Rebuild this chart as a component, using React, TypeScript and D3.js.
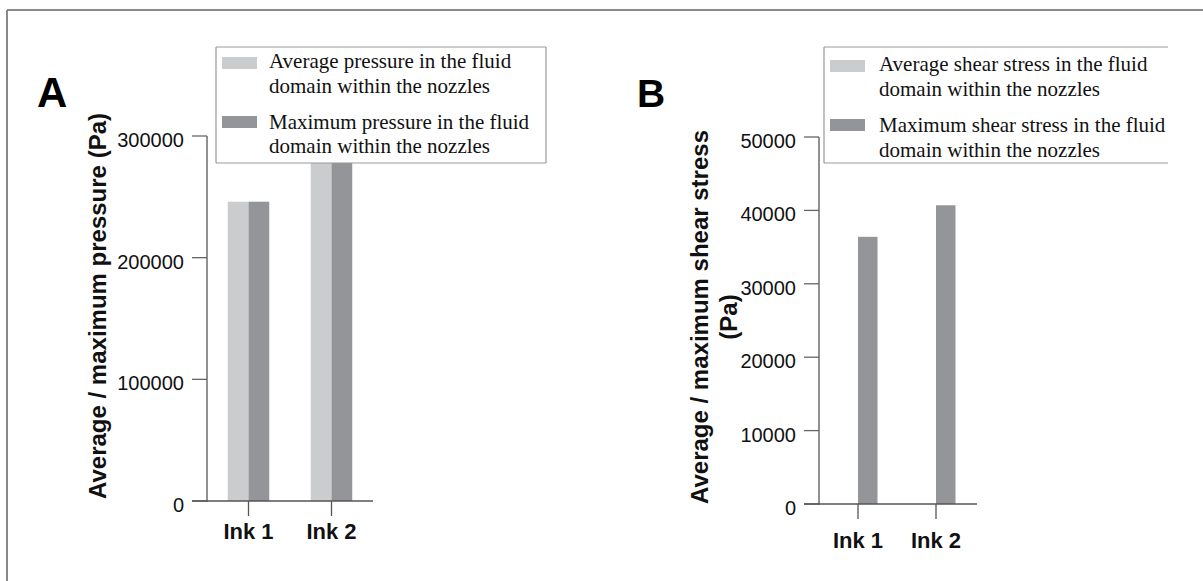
import React from "react";
import * as d3 from "d3";

const categories = ["Ink 1", "Ink 2"];
const seriesKeys = ["avg", "max"];

// Panel A: pressure (Pa)
const pressureAvg = [246000, 282000];
const pressureMax = [246000, 282000];
const pressureTicks = [0, 100000, 200000, 300000];
const pressureLegend = [
  ["Average pressure in the fluid", "domain within the nozzles"],
  ["Maximum pressure in the fluid", "domain within the nozzles"],
];

// Panel B: shear stress (Pa)
const shearAvg = [0, 0];
const shearMax = [36400, 40700];
const shearTicks = [0, 10000, 20000, 30000, 40000, 50000];
const shearLegend = [
  ["Average shear stress in the fluid", "domain within the nozzles"],
  ["Maximum shear stress in the fluid", "domain within the nozzles"],
];

const COLORS = { avg: "#cbcccd", max: "#939598" };
const SANS = "'Liberation Sans', Arial, sans-serif";
const SERIF = "'Liberation Serif', 'Times New Roman', serif";

type PanelProps = {
  letter: string;
  letterX: number;
  letterY: number;
  letterSize: number;
  avg: number[];
  max: number[];
  ticks: number[];
  yDomainMax: number;
  axisX: number;
  axisTop: number;
  axisBottom: number;
  xRangeEnd: number;
  xAxisEnd: number;
  inkLabelY: number;
  yLabelLines: string[];
  yLabelX: number[];
  yLabelCY: number;
  legend: string[][];
  legendBox: { x: number; y: number; w: number; h: number; right: boolean };
  swatchX: number;
  swatchY: number[];
  textX: number;
  textY: number[];
};

function Panel(p: PanelProps) {
  const y = d3.scaleLinear().domain([0, p.yDomainMax]).range([p.axisBottom, p.axisTop]);
  const x = d3
    .scaleBand<string>()
    .domain(categories)
    .range([p.axisX, p.xRangeEnd])
    .paddingInner(0.5)
    .paddingOuter(0.25);
  const xs = d3.scaleBand<string>().domain(seriesKeys).range([0, x.bandwidth()]);
  const data = categories.map((c, i) => ({ c, avg: p.avg[i], max: p.max[i] }));
  const fmt = d3.format("d");
  const tickLen = 15;
  const lb = p.legendBox;
  return (
    <g>
      <text x={p.letterX} y={p.letterY} fontFamily={SANS} fontWeight="bold" fontSize={p.letterSize} fill="#000">
        {p.letter}
      </text>
      {/* bars */}
      {data.map((d) =>
        seriesKeys.map((k) => {
          const v = (d as any)[k] as number;
          const bx = (x(d.c) as number) + (xs(k) as number);
          return (
            <rect
              key={d.c + k}
              x={bx}
              y={y(v)}
              width={xs.bandwidth()}
              height={p.axisBottom - y(v)}
              fill={(COLORS as any)[k]}
            />
          );
        })
      )}
      {/* y axis */}
      <line x1={p.axisX} x2={p.axisX} y1={y(p.yDomainMax)} y2={p.axisBottom + 1} stroke="#555" strokeWidth={1.3} />
      {p.ticks.map((t) => (
        <g key={t}>
          <line x1={p.axisX - tickLen} x2={p.axisX} y1={y(t)} y2={y(t)} stroke="#666" strokeWidth={1.3} />
          <text
            x={p.axisX - tickLen - 8}
            y={y(t) + 11}
            textAnchor="end"
            fontFamily={SANS}
            fontSize={20}
            fill="#111"
          >
            {fmt(t)}
          </text>
        </g>
      ))}
      {/* x axis */}
      <line x1={p.axisX - tickLen} x2={p.xAxisEnd} y1={p.axisBottom} y2={p.axisBottom} stroke="#555" strokeWidth={1.3} />
      {categories.map((c) => {
        const cx = (x(c) as number) + x.bandwidth() / 2;
        return (
          <g key={c}>
            <line x1={cx} x2={cx} y1={p.axisBottom} y2={p.axisBottom + 15} stroke="#555" strokeWidth={1.3} />
            <text x={cx} y={p.inkLabelY} textAnchor="middle" fontFamily={SANS} fontWeight="bold" fontSize={22} fill="#111">
              {c}
            </text>
          </g>
        );
      })}
      {/* y label */}
      {p.yLabelLines.map((l, i) => (
        <text
          key={l}
          transform={`translate(${p.yLabelX[i]},${p.yLabelCY}) rotate(-90)`}
          textAnchor="middle"
          fontFamily={SANS}
          fontWeight="bold"
          fontSize={24}
          fill="#111"
        >
          {l}
        </text>
      ))}
      {/* legend */}
      <rect x={lb.x} y={lb.y} width={lb.w} height={lb.h} fill="#fff" stroke="none" />
      <line x1={lb.x} x2={lb.x + lb.w} y1={lb.y} y2={lb.y} stroke="#999" strokeWidth={1.2} />
      <line x1={lb.x} x2={lb.x + lb.w} y1={lb.y + lb.h} y2={lb.y + lb.h} stroke="#999" strokeWidth={1.2} />
      <line x1={lb.x} x2={lb.x} y1={lb.y} y2={lb.y + lb.h} stroke="#999" strokeWidth={1.2} />
      {lb.right && (
        <line x1={lb.x + lb.w} x2={lb.x + lb.w} y1={lb.y} y2={lb.y + lb.h} stroke="#999" strokeWidth={1.2} />
      )}
      {seriesKeys.map((k, i) => (
        <g key={k}>
          <rect x={p.swatchX} y={p.swatchY[i]} width={35} height={12} fill={(COLORS as any)[k]} />
          {p.legend[i].map((line, j) => (
            <text key={j} x={p.textX} y={p.textY[i * 2 + j]} fontFamily={SERIF} fontSize={21} fill="#111">
              {line}
            </text>
          ))}
        </g>
      ))}
    </g>
  );
}

export default function App() {
  return (
    <svg
      width={1203}
      height={581}
      style={{ position: "absolute", left: 0, top: 0, display: "block", background: "#fff" }}
    >
      <rect x={0} y={0} width={1203} height={581} fill="#fff" />
      <line x1={7} x2={1203} y1={10} y2={10} stroke="#8a8a8a" strokeWidth={2} />
      <line x1={7} x2={7} y1={10} y2={581} stroke="#8a8a8a" strokeWidth={2} />
      <Panel
        letter="A"
        letterX={37}
        letterY={107}
        letterSize={42}
        avg={pressureAvg}
        max={pressureMax}
        ticks={pressureTicks}
        yDomainMax={300000}
        axisX={207}
        axisTop={136}
        axisBottom={501}
        xRangeEnd={373}
        xAxisEnd={373}
        inkLabelY={539}
        yLabelLines={["Average / maximum pressure (Pa)"]}
        yLabelX={[106]}
        yLabelCY={306}
        legend={pressureLegend}
        legendBox={{ x: 216, y: 47, w: 330, h: 116, right: true }}
        swatchX={222}
        swatchY={[57, 116]}
        textX={269}
        textY={[68, 93, 129, 153]}
      />
      <Panel
        letter="B"
        letterX={637}
        letterY={107}
        letterSize={39}
        avg={shearAvg}
        max={shearMax}
        ticks={shearTicks}
        yDomainMax={50000}
        axisX={819}
        axisTop={137}
        axisBottom={504}
        xRangeEnd={975}
        xAxisEnd={977}
        inkLabelY={548}
        yLabelLines={["Average / maximum shear stress", "(Pa)"]}
        yLabelX={[708, 737]}
        yLabelCY={317}
        legend={shearLegend}
        legendBox={{ x: 824, y: 47, w: 344, h: 116, right: false }}
        swatchX={830}
        swatchY={[60, 119]}
        textX={879}
        textY={[71, 96, 132, 157]}
      />
    </svg>
  );
}
